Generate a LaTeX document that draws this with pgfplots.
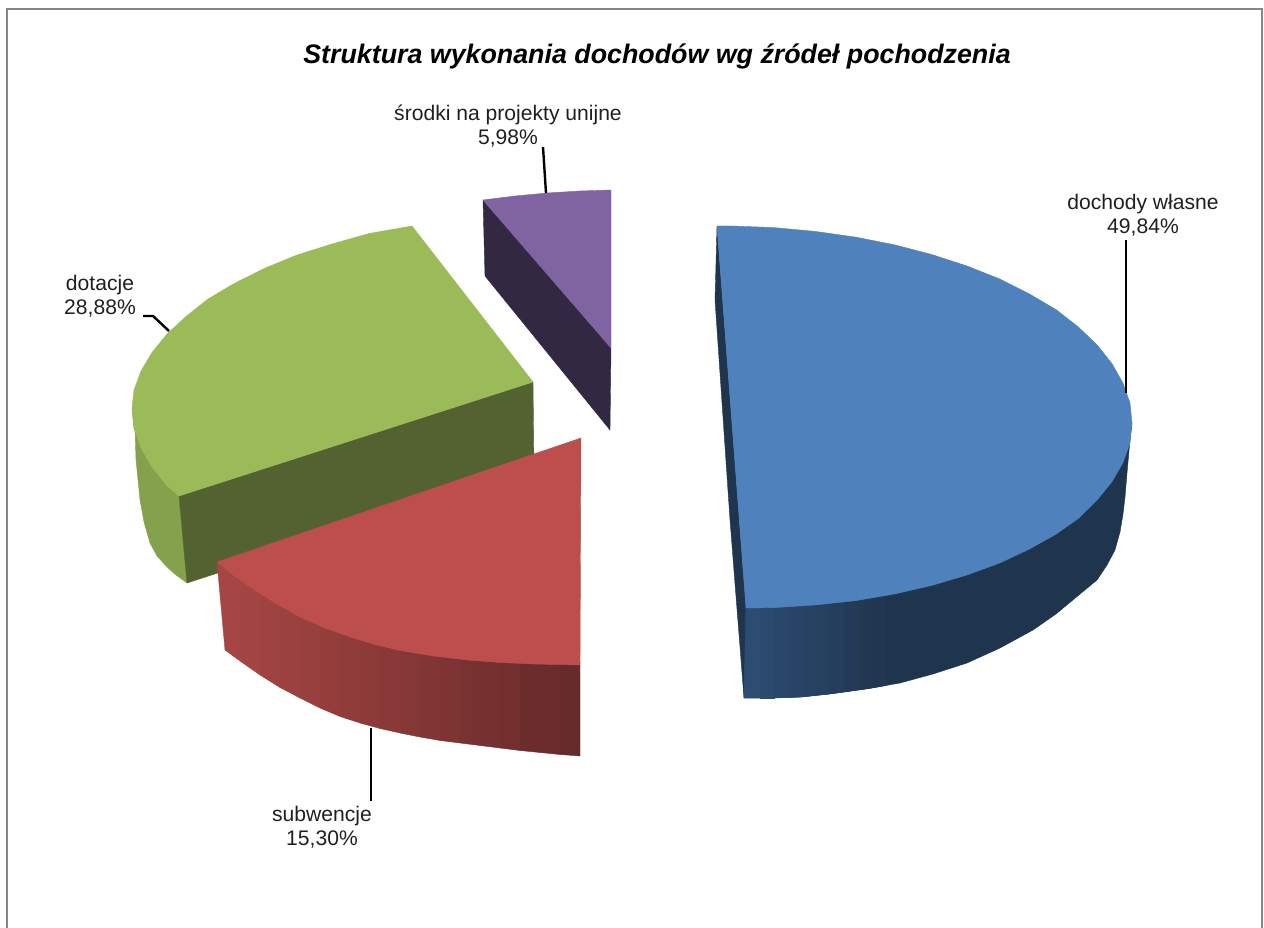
\documentclass[border=0pt]{standalone}
\usepackage{pgfplots}
\pgfplotsset{compat=1.18}
\usepackage{fontspec}
\setmainfont{Liberation Sans}
\definecolor{bluetop}{HTML}{4F81BD}
\definecolor{bluel}{HTML}{2C4C72}
\definecolor{blued}{HTML}{1F344D}
\definecolor{redtop}{HTML}{BC4E4C}
\definecolor{redl}{HTML}{A64644}
\definecolor{redd}{HTML}{672A2A}
\definecolor{greentop}{HTML}{9BBB59}
\definecolor{greenside}{HTML}{84A14B}
\definecolor{greenfront}{HTML}{536230}
\definecolor{purpletop}{HTML}{8064A2}
\definecolor{purpled}{HTML}{332842}
\definecolor{frame}{HTML}{868686}
\newcommand{\shape}[2]{\addplot[draw=#1, fill=#1, line width=0.4pt] coordinates {#2} -- cycle;}
\begin{document}
\begin{tikzpicture}
\path[use as bounding box] (0,0) rectangle (1264pt,928pt);
\begin{axis}[
    at={(0,0)}, anchor=south west,
    scale only axis, width=1264pt, height=928pt,
    xmin=0, xmax=1264, ymin=0, ymax=928, y dir=reverse,
    hide axis, clip=false,
]
% frame, open at the bottom
\addplot[draw=frame, line width=2.6pt] coordinates {(7,928) (7,9) (1262,9) (1262,928)};

% dochody wlasne
\shape{blued}{(717,226) (715,300) (730,520) (744,698) (746,608)}
\shape{blued}{(746,608) (744,698) (770,698) (800,697) (833,693.5) (866,689) (900,683) (933,674) (967,663) (1000,648) (1033,630) (1056,614) (1074,599) (1097,580) (1107,565) (1115,550) (1120,532) (1123,514) (1125,497) (1127,473) (1130,440) (1132,423)}
\shape{bluel!100!blued}{(746,600) (744,698) (760,698) (760,600)}
\shape{bluel!90!blued}{(760,600) (760,698) (774,698) (774,600)}
\shape{bluel!80!blued}{(774,600) (774,698) (788,697.5) (788,600)}
\shape{bluel!70!blued}{(788,600) (788,697.5) (802,697) (802,598)}
\shape{bluel!60!blued}{(802,598) (802,697) (816,695.5) (816,595)}
\shape{bluel!50!blued}{(816,595) (816,695.5) (830,694) (830,595)}
\shape{bluel!40!blued}{(830,595) (830,694) (844,692) (844,595)}
\shape{bluel!30!blued}{(844,595) (844,692) (858,690) (858,590)}
\shape{bluel!20!blued}{(858,590) (858,690) (872,688) (872,590)}
\shape{bluel!10!blued}{(872,590) (872,688) (886,685.5) (886,585)}
\shape{bluetop}{(717,226) (732,226) (774,227.6) (815,231.4) (856,237.2) (895,244.9) (932,254.6) (967,266) (1000,279.1) (1029,293.7) (1056,309.6) (1078,326.7) (1097,344.8) (1112,363.7) (1123,383.2) (1130,403) (1132,423) (1130,443) (1123,462.6) (1112,481.7) (1097,500.2) (1078,518.7) (1056,534.2) (1029,549.3) (1000,562.9) (967,575) (932,585.4) (895,593.9) (856,600.6) (815,605) (774,607.6) (746,608)}

% dotacje
\shape{greenside}{(132,408) (134,428) (141,447.7) (152,467) (167,485.7) (179,496) (187,583) (176,575) (167,567) (157,556) (150,543) (144,522) (140,500) (136,460) (135,427)}
\shape{greenfront}{(533,382) (534,470) (187,583) (179,496)}
\shape{greentop}{(412,226) (369,233.5) (332,244) (297,255) (264,268.5) (235,283) (208,299) (186,316.5) (167,334) (152,352.5) (141,371) (134,390) (132,408) (134,428) (141,447.7) (152,467) (167,485.7) (179,496) (533,382)}

% subwencje
\shape{redl!100!redd}{(217,562) (225,650) (240,661) (240,577)}
\shape{redl!95!redd}{(240,577) (240,661) (260,675) (260,590)}
\shape{redl!89!redd}{(260,590) (260,675) (280,687.5) (280,603)}
\shape{redl!83!redd}{(280,603) (280,687.5) (300,698) (300,614)}
\shape{redl!77!redd}{(300,614) (300,698) (320,708) (320,623)}
\shape{redl!71!redd}{(320,623) (320,708) (340,716.5) (340,630)}
\shape{redl!65!redd}{(340,630) (340,716.5) (360,723) (360,637)}
\shape{redl!59!redd}{(360,637) (360,723) (380,728.5) (380,643)}
\shape{redl!53!redd}{(380,643) (380,728.5) (400,733) (400,647)}
\shape{redl!47!redd}{(400,647) (400,733) (420,737) (420,651)}
\shape{redl!41!redd}{(420,651) (420,737) (440,740.5) (440,654)}
\shape{redl!35!redd}{(440,654) (440,740.5) (460,743) (460,656)}
\shape{redl!29!redd}{(460,656) (460,743) (480,745.5) (480,658)}
\shape{redl!23!redd}{(480,658) (480,745.5) (500,748) (500,659)}
\shape{redl!17!redd}{(500,659) (500,748) (520,750.5) (520,660)}
\shape{redl!11!redd}{(520,660) (520,750.5) (540,752.5) (540,661)}
\shape{redl!6!redd}{(540,661) (540,752.5) (560,754.5) (560,661)}
\shape{redl!0!redd}{(560,661) (560,754.5) (580,756) (580,662)}
\shape{redtop}{(581,438) (217,562) (233,575) (250,587) (275,603) (300,617) (325,628) (350,637) (375,644.5) (400,650.5) (433,656) (467,660) (500,662.5) (533,664) (580,665)}

% srodki na projekty unijne
\shape{purpled}{(483,200) (485,276) (610,430) (611,348)}
\shape{purpletop}{(483,200) (515,196) (547,193) (580,191) (611,190) (611,348)}

% leader lines
\addplot[black, line width=2.4pt] coordinates {(1126,240) (1126,393)};
\addplot[black, line width=2.4pt] coordinates {(543,147) (546,193)};
\addplot[black, line width=2.4pt] coordinates {(143,316) (153,316) (169,331)};
\addplot[black, line width=2.4pt] coordinates {(371,728) (371,801)};

\node[font=\fontsize{26.8}{32}\selectfont\bfseries\itshape] at (axis cs:657,56) {Struktura wykonania dochodów wg źródeł pochodzenia};
\tikzset{lab/.style={align=center, text=black!88, font=\fontsize{21.1}{24}\selectfont}}
\node[lab] at (axis cs:1143,215) {dochody własne\\49,84\%};
\node[lab] at (axis cs:508,126) {środki na projekty unijne\\5,98\%};
\node[lab] at (axis cs:100,296) {dotacje\\28,88\%};
\node[lab] at (axis cs:322,827) {subwencje\\15,30\%};
\end{axis}
\end{tikzpicture}
\end{document}
